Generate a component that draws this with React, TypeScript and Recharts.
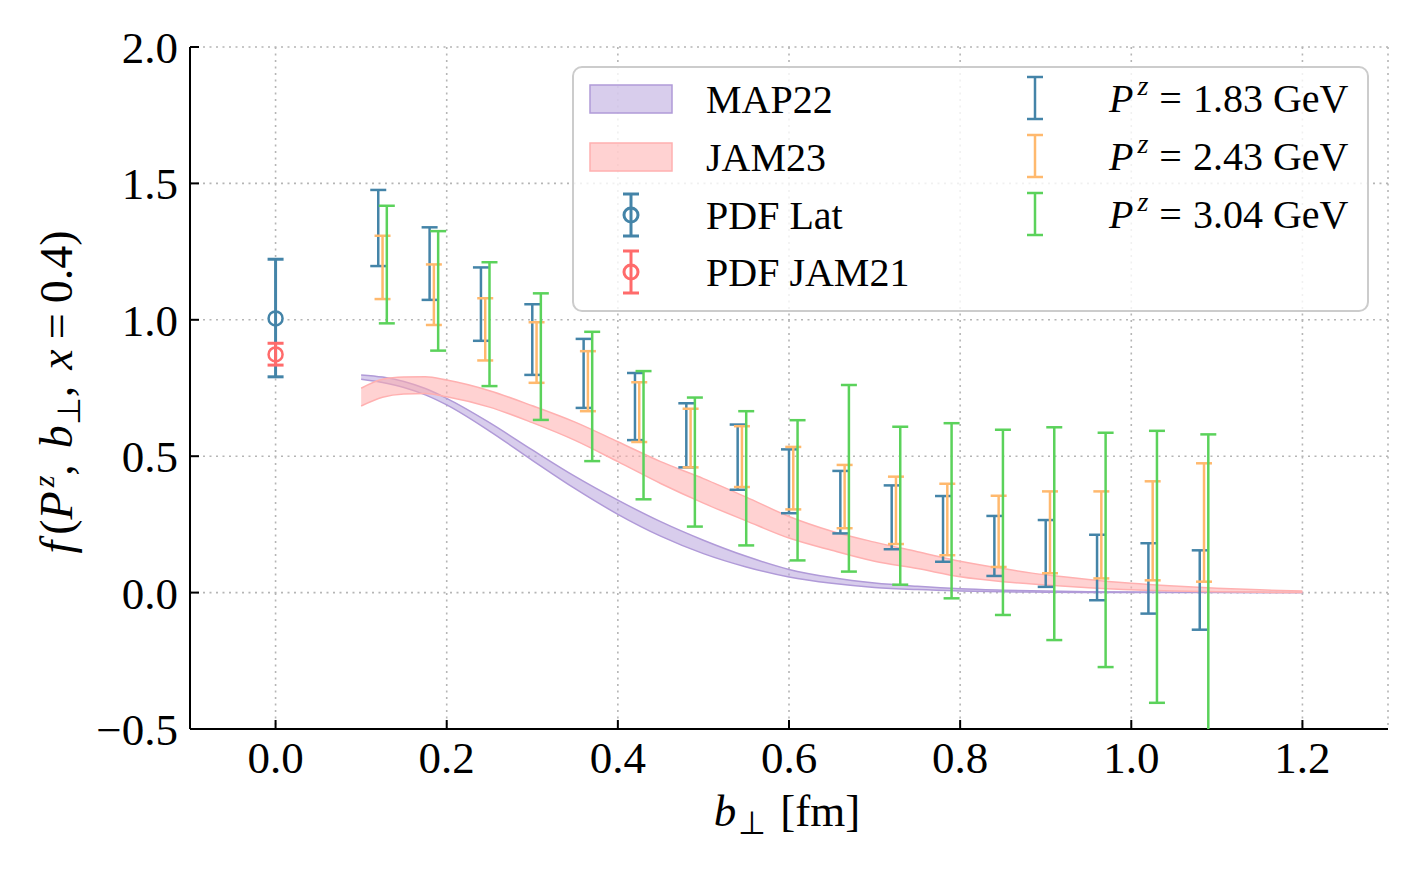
import React from 'react';
import { ComposedChart, Area, Scatter, ErrorBar, XAxis, YAxis, CartesianGrid } from 'recharts';

const FONT = '"Liberation Serif", "Times New Roman", Times, serif';

// ---- axis ticks ----
const xTicks = [0, 0.2, 0.4, 0.6, 0.8, 1.0, 1.2];
const yTicks = [-0.5, 0, 0.5, 1.0, 1.5, 2.0];

// ---- bands (b in fm) ----
const bandB = [0.1, 0.125, 0.15, 0.175, 0.2, 0.25, 0.3, 0.35, 0.4, 0.45, 0.5, 0.55, 0.6, 0.65, 0.7, 0.75, 0.8, 0.85, 0.9, 0.95, 1.0, 1.05, 1.1, 1.15, 1.2];
const map22Lo = [0.782, 0.770, 0.752, 0.725, 0.688, 0.592, 0.485, 0.381, 0.287, 0.207, 0.143, 0.094, 0.057, 0.034, 0.019, 0.011, 0.006, 0.003, 0.0015, 0.0008, 0.0004, 0.0002, 0.0001, 0.0, 0.0];
const map22Hi = [0.798, 0.790, 0.774, 0.748, 0.712, 0.623, 0.523, 0.426, 0.339, 0.260, 0.192, 0.133, 0.085, 0.055, 0.035, 0.023, 0.014, 0.009, 0.0055, 0.0035, 0.0022, 0.0014, 0.0009, 0.0006, 0.0004];
const jam23Lo = [0.684, 0.716, 0.728, 0.730, 0.718, 0.680, 0.623, 0.558, 0.480, 0.400, 0.328, 0.263, 0.200, 0.155, 0.115, 0.088, 0.058, 0.040, 0.028, 0.018, 0.010, 0.006, 0.003, 0.001, 0.0];
const jam23Hi = [0.749, 0.782, 0.790, 0.791, 0.779, 0.740, 0.685, 0.625, 0.553, 0.480, 0.418, 0.350, 0.279, 0.225, 0.185, 0.150, 0.115, 0.088, 0.065, 0.048, 0.034, 0.024, 0.016, 0.010, 0.006];

// ---- lattice b_perp positions ----
const latB = [0.12, 0.18, 0.24, 0.30, 0.36, 0.42, 0.48, 0.54, 0.60, 0.66, 0.72, 0.78, 0.84, 0.90, 0.96, 1.02, 1.08];

// P^z = 1.83 GeV (lower / upper ends)
const pz183Lo = [1.197, 1.073, 0.923, 0.798, 0.677, 0.559, 0.459, 0.377, 0.291, 0.217, 0.159, 0.113, 0.061, 0.021, -0.028, -0.077, -0.136];
const pz183Hi = [1.476, 1.339, 1.192, 1.057, 0.930, 0.805, 0.694, 0.616, 0.525, 0.446, 0.393, 0.354, 0.281, 0.266, 0.212, 0.181, 0.155];
// P^z = 2.43 GeV
const pz243Lo = [1.076, 0.981, 0.851, 0.769, 0.665, 0.552, 0.459, 0.387, 0.305, 0.236, 0.178, 0.137, 0.094, 0.071, 0.052, 0.045, 0.040];
const pz243Hi = [1.308, 1.203, 1.079, 0.991, 0.885, 0.771, 0.674, 0.610, 0.534, 0.468, 0.425, 0.399, 0.355, 0.371, 0.371, 0.408, 0.474];
// P^z = 3.04 GeV
const pz304Lo = [0.987, 0.887, 0.757, 0.633, 0.482, 0.342, 0.242, 0.173, 0.118, 0.077, 0.029, -0.021, -0.082, -0.174, -0.273, -0.404, -0.58];
const pz304Hi = [1.418, 1.325, 1.211, 1.097, 0.956, 0.812, 0.715, 0.665, 0.632, 0.761, 0.608, 0.621, 0.597, 0.606, 0.586, 0.593, 0.580];

// PDF points at b = 0
const pdfLatB = [0];
const pdfLatY = [1.005];
const pdfLatLo = [0.791];
const pdfLatHi = [1.222];
const pdfJamB = [0];
const pdfJamY = [0.873];
const pdfJamLo = [0.834];
const pdfJamHi = [0.914];

// ---- colours ----
const C_BLUE = '#4484a8';
const C_ORANGE = '#ffb96e';
const C_GREEN = '#5bd25b';
const C_RED = '#ff6b6b';
const C_PURPLE_FILL = '#b8a4dc';
const C_PURPLE_EDGE = '#b09ad8';
const C_PINK_FILL = '#ffadad';
const C_PINK_EDGE = '#ffb0b0';

const bandData = bandB.map((b, i) => ({ b, map: [map22Lo[i], map22Hi[i]], jam: [jam23Lo[i], jam23Hi[i]] }));

function barData(bs: number[], lo: number[], hi: number[], shift: number) {
  return bs.map((b, i) => {
    const mid = (lo[i] + hi[i]) / 2;
    return { b: b + shift, y: mid, err: [mid - lo[i], hi[i] - mid] };
  });
}
function ptData(bs: number[], ys: number[], lo: number[], hi: number[]) {
  return bs.map((b, i) => ({ b, y: ys[i], err: [ys[i] - lo[i], hi[i] - ys[i]] }));
}

const pz183Data = barData(latB, pz183Lo, pz183Hi, 0);
const pz243Data = barData(latB, pz243Lo, pz243Hi, 0.005);
const pz304Data = barData(latB, pz304Lo, pz304Hi, 0.01);
const pdfLatData = ptData(pdfLatB, pdfLatY, pdfLatLo, pdfLatHi);
const pdfJamData = ptData(pdfJamB, pdfJamY, pdfJamLo, pdfJamHi);

const noShape = () => <g />;
const circleShape = (color: string) => (props: any) => (
  <circle cx={props.cx} cy={props.cy} r={7} fill="none" stroke={color} strokeWidth={2.5} />
);

const fmtX = (v: number) => v.toFixed(1);
const fmtY = (v: number) => (v < 0 ? '\u2212' : '') + Math.abs(v).toFixed(1);

const axisCommon = {
  axisLine: { stroke: '#000', strokeWidth: 2 },
  tickLine: { stroke: '#000', strokeWidth: 2 },
  tickSize: -9,
};

function Legend() {
  const rows = [99, 157, 215, 272];
  const rows2 = [98, 156, 214];
  const labels2 = ['1.83', '2.43', '3.04'];
  const cols2 = [C_BLUE, C_ORANGE, C_GREEN];
  return (
    <g fontFamily={FONT} fontSize={40} fill="#000">
      <rect x={573} y={67} width={795} height={244} rx={9} ry={9} fill="#fff" fillOpacity={0.8} stroke="#cccccc" strokeWidth={2} />
      <rect x={590} y={85} width={82} height={28} fill={C_PURPLE_FILL} fillOpacity={0.55} stroke={C_PURPLE_EDGE} strokeWidth={1.5} />
      <rect x={590} y={143} width={82} height={28} fill={C_PINK_FILL} fillOpacity={0.55} stroke={C_PINK_EDGE} strokeWidth={1.5} />
      {[{ c: C_BLUE, y: rows[2] }, { c: C_RED, y: rows[3] }].map((m, i) => (
        <g key={i} stroke={m.c} strokeWidth={3}>
          <line x1={631} x2={631} y1={m.y - 21} y2={m.y + 21} />
          <line x1={623} x2={639} y1={m.y - 21} y2={m.y - 21} />
          <line x1={623} x2={639} y1={m.y + 21} y2={m.y + 21} />
          <circle cx={631} cy={m.y} r={7} fill="none" />
        </g>
      ))}
      <text x={706} y={rows[0] + 14}>MAP22</text>
      <text x={706} y={rows[1] + 14}>JAM23</text>
      <text x={706} y={rows[2] + 14}>PDF Lat</text>
      <text x={706} y={rows[3] + 14}>PDF JAM21</text>
      {rows2.map((y, i) => (
        <g key={i}>
          <g stroke={cols2[i]} strokeWidth={2.5}>
            <line x1={1035} x2={1035} y1={y - 21} y2={y + 21} />
            <line x1={1027} x2={1043} y1={y - 21} y2={y - 21} />
            <line x1={1027} x2={1043} y1={y + 21} y2={y + 21} />
          </g>
          <text x={1109} y={y + 14}>
            <tspan fontStyle="italic">P</tspan>
            <tspan fontStyle="italic" fontSize={28} dy={-17} dx={4}>z</tspan>
            <tspan dy={17} dx={11}>=</tspan>
            <tspan dx={11}>{labels2[i]} GeV</tspan>
          </text>
        </g>
      ))}
    </g>
  );
}

function Titles() {
  return (
    <g fontFamily={FONT} fontSize={45} fill="#000">
      <text x={787} y={826} textAnchor="middle">
        <tspan fontStyle="italic">b</tspan>
        <tspan fontSize={32} dy={8} dx={2}>⊥</tspan>
        <tspan dy={-8} dx={14}>[fm]</tspan>
      </text>
      <text x={72} y={392} textAnchor="middle" transform="rotate(-90 72 392)" fontSize={46}>
        <tspan fontStyle="italic">f</tspan>
        <tspan dx={6}>(</tspan>
        <tspan fontStyle="italic">P</tspan>
        <tspan fontStyle="italic" fontSize={30} dy={-18} dx={4}>z</tspan>
        <tspan dy={18}>,</tspan>
        <tspan fontStyle="italic" dx={16}>b</tspan>
        <tspan fontSize={32} dy={8}>⊥</tspan>
        <tspan dy={-8}>,</tspan>
        <tspan fontStyle="italic" dx={16}>x</tspan>
        <tspan dx={10}>=</tspan>
        <tspan dx={10}>0.4)</tspan>
      </text>
    </g>
  );
}

export default function App() {
  return (
    <div style={{ position: 'absolute', left: 0, top: 0, width: 1420, height: 878, background: '#fff' }}>
      <ComposedChart width={1420} height={878} data={bandData} margin={{ top: 47, right: 32, bottom: 89, left: 110 }}>
        <CartesianGrid stroke="#b5b5b5" strokeDasharray="2 4.5" strokeWidth={1.6} />
        <XAxis
          type="number"
          dataKey="b"
          domain={[-0.1, 1.3]}
          ticks={xTicks}
          allowDataOverflow
          height={60}
          tickFormatter={fmtX}
          tickMargin={21}
          tick={{ fill: '#000', fontSize: 45, fontFamily: FONT }}
          {...axisCommon}
        />
        <XAxis
          xAxisId="top"
          orientation="top"
          type="number"
          dataKey="b"
          domain={[-0.1, 1.3]}
          ticks={xTicks}
          allowDataOverflow
          height={0}
          tick={false}
          {...axisCommon}
        />
        <YAxis
          type="number"
          domain={[-0.5, 2.0]}
          ticks={yTicks}
          allowDataOverflow
          width={80}
          tickFormatter={fmtY}
          tickMargin={21}
          tick={{ fill: '#000', fontSize: 45, fontFamily: FONT }}
          {...axisCommon}
        />
        <YAxis
          yAxisId="right"
          orientation="right"
          type="number"
          domain={[-0.5, 2.0]}
          ticks={yTicks}
          allowDataOverflow
          width={0}
          tick={false}
          {...axisCommon}
        />
        <Area
          type="monotone"
          dataKey={(d: any) => d.map}
          fill={C_PURPLE_FILL}
          fillOpacity={0.55}
          stroke={C_PURPLE_EDGE}
          strokeWidth={1.5}
          dot={false}
          activeDot={false}
          isAnimationActive={false}
        />
        <Area
          type="monotone"
          dataKey={(d: any) => d.jam}
          fill={C_PINK_FILL}
          fillOpacity={0.55}
          stroke={C_PINK_EDGE}
          strokeWidth={1.5}
          dot={false}
          activeDot={false}
          isAnimationActive={false}
        />
        <Scatter data={pz183Data} dataKey="y" shape={noShape} isAnimationActive={false}>
          <ErrorBar dataKey="err" direction="y" width={8} strokeWidth={2.5} stroke={C_BLUE} zIndex={0} />
        </Scatter>
        <Scatter data={pz243Data} dataKey="y" shape={noShape} isAnimationActive={false}>
          <ErrorBar dataKey="err" direction="y" width={8} strokeWidth={2.5} stroke={C_ORANGE} zIndex={0} />
        </Scatter>
        <Scatter data={pz304Data} dataKey="y" shape={noShape} isAnimationActive={false}>
          <ErrorBar dataKey="err" direction="y" width={8} strokeWidth={2.5} stroke={C_GREEN} zIndex={0} />
        </Scatter>
        <Scatter data={pdfLatData} dataKey="y" shape={circleShape(C_BLUE)} isAnimationActive={false}>
          <ErrorBar dataKey="err" direction="y" width={8} strokeWidth={3} stroke={C_BLUE} zIndex={0} />
        </Scatter>
        <Scatter data={pdfJamData} dataKey="y" shape={circleShape(C_RED)} isAnimationActive={false}>
          <ErrorBar dataKey="err" direction="y" width={8} strokeWidth={3} stroke={C_RED} zIndex={0} />
        </Scatter>
      </ComposedChart>
      <svg width={1420} height={878} style={{ position: 'absolute', left: 0, top: 0, pointerEvents: 'none' }}>
        <Legend />
        <Titles />
      </svg>
    </div>
  );
}
